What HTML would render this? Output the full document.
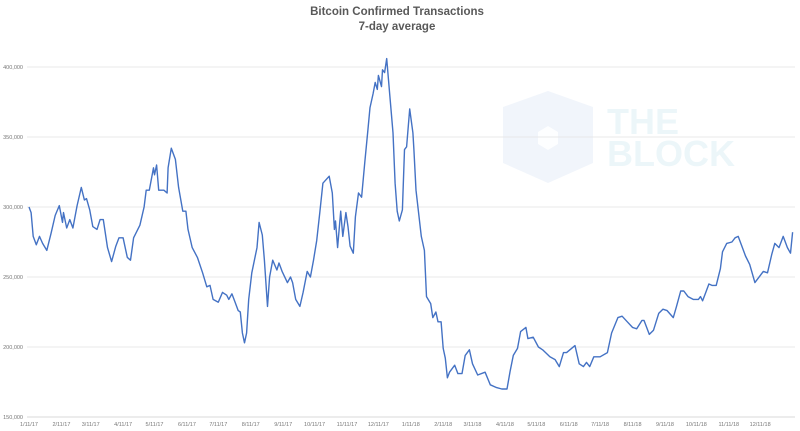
<!DOCTYPE html>
<html><head><meta charset="utf-8"><style>
body{margin:0;background:#fff;}
svg{display:block;font-family:"Liberation Sans",sans-serif;}
</style></head><body>
<svg id="chart" width="800" height="431" viewBox="0 0 800 431">
<text x="397" y="15" text-anchor="middle" font-size="11.5" font-weight="bold" fill="#595959">Bitcoin Confirmed Transactions</text>
<text x="397" y="30" text-anchor="middle" font-size="11.5" font-weight="bold" fill="#595959">7-day average</text>
<g>
<polygon points="548,91 593,107 593,163 548,183 503,163 503,107" fill="#f1f5fb"/>
<polygon points="548,126 558,132 558,144 548,150 538,144 538,132" fill="#fdfeff"/>
<text x="607" y="134" font-size="36" font-weight="bold" fill="#ecf6f9">THE</text>
<text x="607" y="166" font-size="36" font-weight="bold" fill="#ecf6f9">BLOCK</text>
</g>
<g id="grid"></g><g id="xlabels"></g><g id="series"></g>
</svg>
<script>
const yTicks=[150000,200000,250000,300000,350000,400000];
const yTickLabels=['150,000','200,000','250,000','300,000','350,000','400,000'];
const xTickLabels=['1/11/17','2/11/17','3/11/17','4/11/17','5/11/17','6/11/17','7/11/17','8/11/17','9/11/17','10/11/17','11/11/17','12/11/17','1/11/18','2/11/18','3/11/18','4/11/18','5/11/18','6/11/18','7/11/18','8/11/18','9/11/18','10/11/18','11/11/18','12/11/18'];
const days=[0,2,4,7,10,13,17,21,25,29,32,33,36,39,42,46,50,53,55,58,61,65,68,71,75,79,83,86,90,94,97,100,106,110,112,115,119,120,122,124,129,132,133,136,140,143,147,150,152,156,161,166,170,173,176,181,185,189,191,194,197,200,202,204,206,208,210,213,218,220,223,225,228,230,233,237,239,242,247,250,252,255,259,262,266,269,272,275,278,281,287,290,292,293,295,298,300,303,305,307,310,312,315,318,321,324,326,329,331,333,334,337,338,340,342,345,348,350,352,354,357,359,361,364,367,368,370,375,378,380,384,386,389,391,394,396,398,400,402,407,410,414,417,421,424,429,436,441,447,452,457,460,463,467,470,475,477,482,487,491,498,503,507,511,514,522,526,530,533,536,540,546,553,557,563,567,572,577,581,586,588,593,597,602,606,610,616,619,623,626,630,635,640,642,644,647,650,653,657,661,663,667,672,675,678,682,685,689,694,699,702,706,710,713,717,721,725,728,730];
const values=[300,296,279,273,279,274,269,281,294,301,289,296,285,291,285,301,314,305,306,298,286,284,291,291,271,261,272,278,278,264,262,278,287,300,312,312,328,323,330,312,312,310,328,342,334,314,297,297,284,271,264,253,243,244,234,232,239,237,234,238,232,226,225,210,203,210,234,253,271,289,280,262,229,250,262,255,260,254,246,250,246,234,229,239,254,250,262,276,296,317,322,310,284,290,271,297,279,296,286,272,267,293,310,307,332,355,371,381,389,384,394,386,398,396,406,379,353,317,297,290,298,341,343,370,353,341,312,279,269,236,231,221,225,218,218,199,192,178,182,187,181,181,194,198,188,180,182,173,171,170,170,183,194,199,211,214,206,207,200,198,193,191,186,196,196,201,188,186,189,186,193,193,196,210,221,222,218,214,213,219,219,209,212,224,227,226,221,229,240,240,236,234,234,236,233,239,245,244,244,256,268,274,275,278,279,271,265,259,246,251,254,253,266,274,271,279,271,267,282];
const NS='http://www.w3.org/2000/svg';
const X0=29,PXD=1.046,Y0=417,PXV=70/50000;
const xScale=d=>X0+d*PXD;
const yScale=v=>Y0-(v-150000)*PXV;
const grid=document.getElementById('grid');
yTicks.forEach((t,i)=>{
 const l=document.createElementNS(NS,'line');
 
 
 l.setAttribute('x1',27);l.setAttribute('x2',795);
 l.setAttribute('y1',yScale(t));l.setAttribute('y2',yScale(t));
 l.setAttribute('stroke',i==0?'#d9d9d9':'#e8e8e8');l.setAttribute('stroke-width',1);
 grid.appendChild(l);
 const tx=document.createElementNS(NS,'text');
 
 
 tx.setAttribute('x',23);tx.setAttribute('y',yScale(t)+2);
 tx.setAttribute('text-anchor','end');tx.setAttribute('font-size','5.5');tx.setAttribute('fill','#777');
 tx.textContent=yTickLabels[i];grid.appendChild(tx);
});
const xl=document.getElementById('xlabels');
const start=Date.UTC(2017,0,11);
xTickLabels.forEach(s=>{
 const p=s.split('/');
 const d=(Date.UTC(2000+ +p[2],+p[0]-1,+p[1])-start)/86400000;
 const tx=document.createElementNS(NS,'text');
 
 
 tx.setAttribute('x',xScale(d));tx.setAttribute('y',426);
 tx.setAttribute('text-anchor','middle');tx.setAttribute('font-size','5.5');tx.setAttribute('fill','#777');
 tx.textContent=s;xl.appendChild(tx);
});
const pts=days.map((d,i)=>xScale(d).toFixed(1)+','+yScale(values[i]*1000).toFixed(1)).join(' ');
const pl=document.createElementNS(NS,'polyline');


pl.setAttribute('points',pts);pl.setAttribute('fill','none');
pl.setAttribute('stroke','#4472c4');pl.setAttribute('stroke-width','1.4');pl.setAttribute('stroke-linejoin','round');
document.getElementById('series').appendChild(pl);
</script>
</body></html>
